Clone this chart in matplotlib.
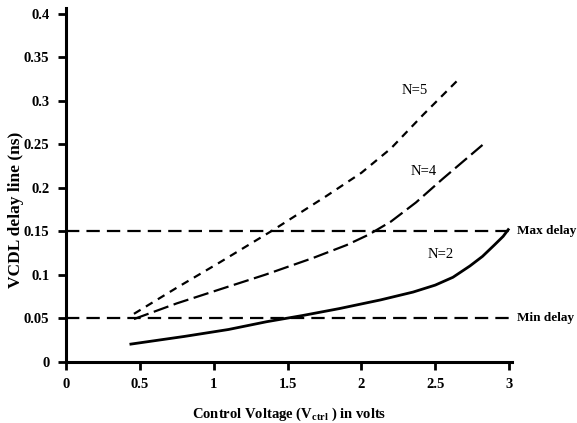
import matplotlib
matplotlib.use("Agg")
import matplotlib.pyplot as plt

# Data
n2_x = [0.43, 0.8, 1.1, 1.36, 1.6, 1.85, 2.13, 2.35, 2.5, 2.62, 2.735, 2.82, 2.9, 2.96, 3.0]
n2_y = [0.020, 0.029, 0.037, 0.046, 0.053, 0.061, 0.071, 0.080, 0.088, 0.097, 0.110, 0.121, 0.134, 0.144, 0.153]

n4_x = [0.46, 0.75, 1.04, 1.35, 1.67, 1.9, 2.05, 2.2, 2.37, 2.55, 2.82]
n4_y = [0.049, 0.067, 0.083, 0.100, 0.119, 0.134, 0.146, 0.161, 0.183, 0.210, 0.249]

n5_x = [0.46, 0.75, 1.04, 1.40, 1.76, 2.0, 2.2, 2.42, 2.65]
n5_y = [0.055, 0.085, 0.114, 0.151, 0.190, 0.217, 0.245, 0.284, 0.323]

max_delay = 0.15
min_delay = 0.05

x_ticks = [0, 0.5, 1, 1.5, 2, 2.5, 3]
x_tick_labels = ["0", "0.5", "1", "1.5", "2", "2.5", "3"]
y_ticks = [0, 0.05, 0.1, 0.15, 0.2, 0.25, 0.3, 0.35, 0.4]
y_tick_labels = ["0", "0.05", "0.1", "0.15", "0.2", "0.25", "0.3", "0.35", "0.4"]

curve_labels = [("N=5", 2.36, 0.311), ("N=4", 2.42, 0.218), ("N=2", 2.54, 0.123)]

plt.rcParams['font.family'] = ['Liberation Serif', 'DejaVu Serif']
plt.rcParams['mathtext.fontset'] = 'custom'
plt.rcParams['mathtext.rm'] = 'Liberation Serif'
plt.rcParams['mathtext.bf'] = 'Liberation Serif:bold'

fig = plt.figure(figsize=(5.77, 4.23), dpi=100)
ax = fig.add_axes([0.1144, 0.1449, 0.773, 0.8355])

ax.plot(n2_x, n2_y, color='black', lw=2.0, solid_capstyle='butt')
ax.plot(n4_x, n4_y, color='black', lw=1.6, dashes=(7, 2.5))
ax.plot(n5_x, n5_y, color='black', lw=1.6, dashes=(3.5, 2.8))

ax.plot([0, 3.0], [max_delay, max_delay], color='black', lw=1.6, dashes=(6, 3.2))
ax.plot([0, 3.0], [min_delay, min_delay], color='black', lw=1.6, dashes=(6, 3.2))

ax.text(3.055, max_delay, "Max delay", fontsize=9.5, fontweight='bold', va='center', ha='left', clip_on=False)
ax.text(3.055, min_delay, "Min delay", fontsize=9.5, fontweight='bold', va='center', ha='left', clip_on=False)

for lbl, lx, ly in curve_labels:
    ax.text(lx, ly, lbl, fontsize=10.5, ha='center', va='center')

ax.set_xlim(0, 3.02)
ax.set_ylim(0, 0.406)
ax.set_xticks(x_ticks)
ax.set_xticklabels(x_tick_labels, fontweight='bold', fontsize=10.5)
ax.set_yticks(y_ticks)
ax.set_yticklabels(y_tick_labels, fontweight='bold', fontsize=10.5)

for s in ['top', 'right']:
    ax.spines[s].set_visible(False)
for s in ['left', 'bottom']:
    ax.spines[s].set_linewidth(2.2)
ax.tick_params(axis='both', direction='out', length=6, width=2, pad=6)

ax.set_xlabel(r"Control Voltage (V$_{\mathbf{ctrl}}$ ) in volts", fontsize=10.5, fontweight='bold', labelpad=10)
ax.set_ylabel("VCDL delay line (ns)", fontsize=12.5, fontweight='bold')
ax.yaxis.set_label_coords(-0.095, 0.43)

fig.savefig("out.png", dpi=100)
